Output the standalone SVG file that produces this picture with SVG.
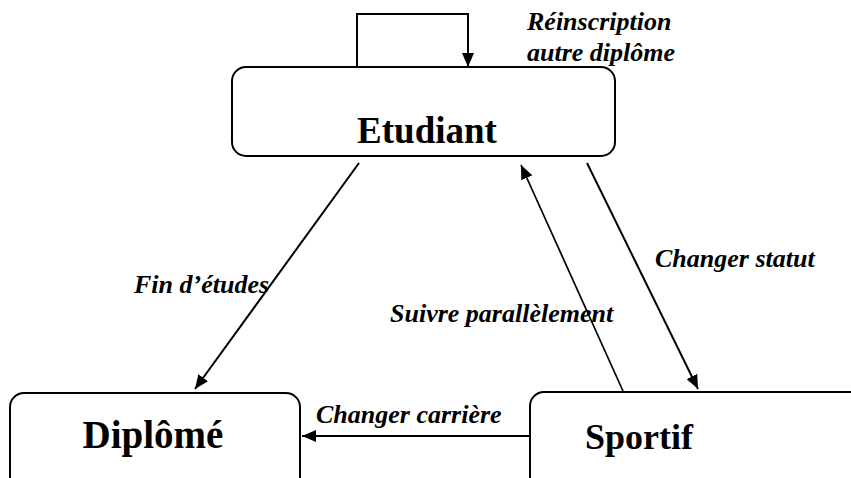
<svg xmlns="http://www.w3.org/2000/svg" width="851" height="478" viewBox="0 0 851 478">
<style>
.box{fill:#fff;stroke:#000;stroke-width:2}
.node{font-family:"Liberation Serif","Times New Roman",serif;font-weight:bold;font-size:37px;fill:#000}
.lbl{font-family:"Liberation Serif","Times New Roman",serif;font-weight:bold;font-style:italic;font-size:26px;fill:#000}
.c{fill:none;stroke:#000;stroke-width:2}
.thin{stroke-width:1.7}
</style>
<defs>
<marker id="ah" viewBox="0 0 14 12" refX="14" refY="6" markerWidth="14" markerHeight="12" markerUnits="userSpaceOnUse" orient="auto">
<path d="M0,0 L14,6 L0,12 Z" fill="#000"/>
</marker>
</defs>
<rect width="851" height="478" fill="#fff"/>
<g id="connectors">
<path class="c" d="M357,67 V14 H468 V67" marker-end="url(#ah)"/>
<line class="c" x1="359" y1="163" x2="195" y2="389" marker-end="url(#ah)"/>
<line class="c thin" x1="623" y1="391" x2="521" y2="165" marker-end="url(#ah)"/>
<line class="c" x1="587" y1="163" x2="698" y2="389" marker-end="url(#ah)"/>
<line class="c" x1="530" y1="436" x2="302" y2="436" marker-end="url(#ah)"/>
</g>
<g id="labels">
<text class="lbl" x="527" y="30">Réinscription</text>
<text class="lbl" x="527" y="61">autre diplôme</text>
<text class="lbl" x="134" y="293">Fin d’études</text>
<text class="lbl" x="390" y="322">Suivre parallèlement</text>
<text class="lbl" x="655" y="267">Changer statut</text>
<text class="lbl" x="316" y="423">Changer carrière</text>
</g>
<g id="etudiant">
<rect class="box" x="232" y="67" width="383" height="89" rx="14"/>
<text class="node" x="427" y="143" text-anchor="middle">Etudiant</text>
</g>
<g id="diplome">
<rect class="box" x="10" y="393" width="290" height="110" rx="14"/>
<text class="node" x="153" y="448" text-anchor="middle" style="font-size:39px">Diplômé</text>
</g>
<g id="sportif">
<rect class="box" x="530" y="392" width="360" height="110" rx="14"/>
<text class="node" x="585" y="449" style="font-size:36px">Sportif</text>
</g>
</svg>
